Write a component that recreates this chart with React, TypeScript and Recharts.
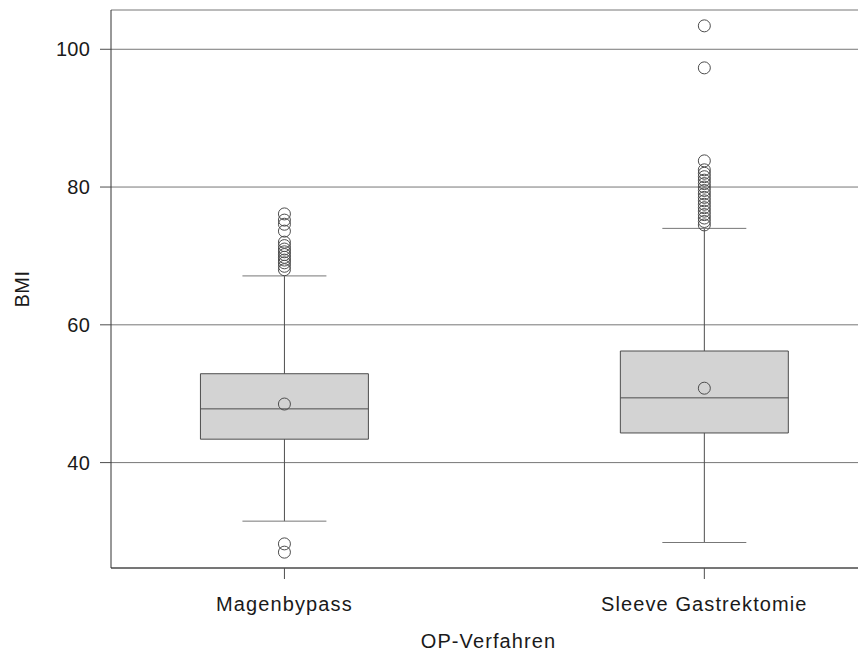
import React from 'react'
import {
  ComposedChart,
  XAxis,
  YAxis,
  CartesianGrid,
  Scatter,
  ReferenceArea,
  ReferenceLine,
} from 'recharts'

// Box statistics per OP-Verfahren
const categories = ['Magenbypass', 'Sleeve Gastrektomie']
const q1 = [43.4, 44.3]
const medians = [47.8, 49.4]
const q3 = [52.9, 56.2]
const whiskerLow = [31.5, 28.4]
const whiskerHigh = [67.1, 74.0]
const means = [48.5, 50.8]

const outliersMagenbypass = [
  27.0, 28.2, 68.0, 68.5, 69.0, 69.4, 69.8, 70.2, 70.6, 71.0, 71.5, 72.0, 73.6, 74.6, 75.2, 76.1,
]
const outliersSleeve = [
  74.5, 75.0, 75.5, 76.0, 76.5, 77.0, 77.5, 78.0, 78.5, 79.0, 79.5, 80.0, 80.5, 81.0, 81.5,
  82.0, 82.5, 83.8, 97.3, 103.4,
]

const yTicks = [40, 60, 80, 100]

const FONT = '"Liberation Sans", Arial, sans-serif'
const DARK = '#4d4d4d'
const GRID = '#777777'
const BOX_HALF = 0.2
const CAP_HALF = 0.1

const outlierData = [
  ...outliersMagenbypass.map((v) => ({ x: 1, y: v })),
  ...outliersSleeve.map((v) => ({ x: 2, y: v })),
]
const meanData = means.map((v, i) => ({ x: i + 1, y: v }))

const ring = (p: any) => (
  <circle cx={p.cx} cy={p.cy} r={6} fill="none" stroke={DARK} strokeWidth={1} />
)

export default function App() {
  return (
    <ComposedChart
      width={858}
      height={647}
      margin={{ top: 2, right: 0, bottom: 0, left: 0 }}
      style={{ fontFamily: FONT }}
    >
      <CartesianGrid horizontal vertical={false} stroke={GRID} strokeWidth={1} />
      <XAxis
        xAxisId="top"
        orientation="top"
        type="number"
        domain={[0.587, 2.385]}
        allowDataOverflow
        height={0}
        tick={false}
        tickLine={false}
        axisLine={{ stroke: GRID }}
      />
      <XAxis
        dataKey="x"
        type="number"
        domain={[0.587, 2.385]}
        allowDataOverflow
        ticks={[1, 2]}
        tickFormatter={(v: number) => categories[v - 1] ?? ''}
        height={87}
        tickSize={11}
        tickMargin={18}
        tickLine={{ stroke: DARK }}
        axisLine={{ stroke: '#333333' }}
        tick={{ fill: '#1a1a1a', fontSize: 20, letterSpacing: 1.1, fontFamily: FONT }}
        label={{
          content: (props: any) => {
            const vb = props.viewBox
            return (
              <text
                x={vb.x + vb.width / 2}
                y={vb.y + vb.height - 7}
                textAnchor="middle"
                fill="#1a1a1a"
                fontSize={20}
                letterSpacing={1.1}
                fontFamily={FONT}
              >
                OP-Verfahren
              </text>
            )
          },
        }}
      />
      <YAxis
        type="number"
        domain={[24.7, 105.7]}
        allowDataOverflow
        ticks={yTicks}
        width={103}
        tickSize={11}
        tickMargin={10}
        tickLine={{ stroke: DARK }}
        axisLine={{ stroke: '#333333' }}
        tick={{ fill: '#1a1a1a', fontSize: 20, letterSpacing: 0.2, fontFamily: FONT }}
        label={{
          content: (props: any) => {
            const vb = props.viewBox
            const cx = 14
            const cy = vb.y + vb.height / 2
            return (
              <text
                x={cx}
                y={cy}
                transform={`rotate(-90 ${cx} ${cy})`}
                textAnchor="middle"
                dominantBaseline="central"
                fill="#1a1a1a"
                fontSize={20}
                letterSpacing={0.5}
                fontFamily={FONT}
              >
                BMI
              </text>
            )
          },
        }}
      />

      {categories.map((c, i) => (
        <ReferenceLine
          key={`wl-${c}`}
          segment={[
            { x: i + 1, y: whiskerLow[i] },
            { x: i + 1, y: q1[i] },
          ]}
          stroke={DARK}
          ifOverflow="visible"
        />
      ))}
      {categories.map((c, i) => (
        <ReferenceLine
          key={`wh-${c}`}
          segment={[
            { x: i + 1, y: q3[i] },
            { x: i + 1, y: whiskerHigh[i] },
          ]}
          stroke={DARK}
          ifOverflow="visible"
        />
      ))}
      {categories.map((c, i) => (
        <ReferenceLine
          key={`cl-${c}`}
          segment={[
            { x: i + 1 - CAP_HALF, y: whiskerLow[i] },
            { x: i + 1 + CAP_HALF, y: whiskerLow[i] },
          ]}
          stroke={GRID}
          ifOverflow="visible"
        />
      ))}
      {categories.map((c, i) => (
        <ReferenceLine
          key={`ch-${c}`}
          segment={[
            { x: i + 1 - CAP_HALF, y: whiskerHigh[i] },
            { x: i + 1 + CAP_HALF, y: whiskerHigh[i] },
          ]}
          stroke={GRID}
          ifOverflow="visible"
        />
      ))}
      {categories.map((c, i) => (
        <ReferenceArea
          key={`box-${c}`}
          x1={i + 1 - BOX_HALF}
          x2={i + 1 + BOX_HALF}
          y1={q1[i]}
          y2={q3[i]}
          fill="#d3d3d3"
          fillOpacity={1}
          stroke={DARK}
          strokeWidth={1}
          ifOverflow="visible"
        />
      ))}
      {categories.map((c, i) => (
        <ReferenceLine
          key={`med-${c}`}
          segment={[
            { x: i + 1 - BOX_HALF, y: medians[i] },
            { x: i + 1 + BOX_HALF, y: medians[i] },
          ]}
          stroke={DARK}
          strokeWidth={1}
          ifOverflow="visible"
        />
      ))}

      <Scatter data={meanData} dataKey="y" shape={ring} isAnimationActive={false} />
      <Scatter data={outlierData} dataKey="y" shape={ring} isAnimationActive={false} />
    </ComposedChart>
  )
}
